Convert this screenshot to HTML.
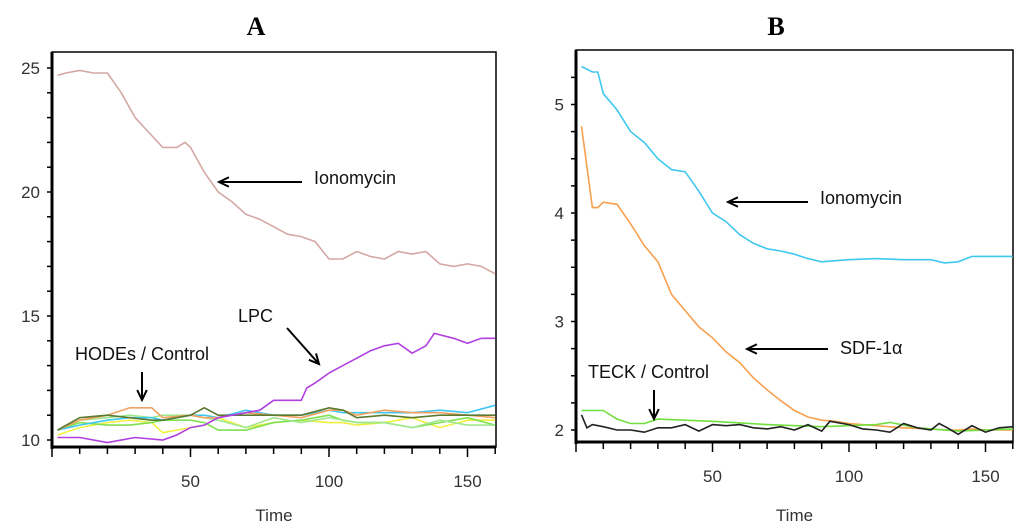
<!DOCTYPE html>
<html><head><meta charset="utf-8"><style>
body{margin:0;background:#fff;width:1024px;height:525px;overflow:hidden}
svg text{font-family:"Liberation Sans",sans-serif}
</style></head><body>
<svg id="c" width="1024" height="525">
<text x="256" y="35" font-family="Liberation Serif" font-weight="bold" font-size="26" text-anchor="middle" style="font-family:'Liberation Serif',serif">A</text>
<text x="776" y="35" font-weight="bold" font-size="26" text-anchor="middle" style="font-family:'Liberation Serif',serif">B</text>
</svg>
<script>
const tA=[2,5,10,15,20,25,30,35,40,45,48,50,55,60,65,70,75,80,85,90,95,100,105,110,115,120,125,130,135,140,145,150,155,160];
const ionoA=[24.7,24.8,24.9,24.8,24.8,24.0,23.0,22.4,21.8,21.8,22.0,21.8,20.8,20.0,19.6,19.1,18.9,18.6,18.3,18.2,18.0,17.3,17.3,17.6,17.4,17.3,17.6,17.5,17.6,17.1,17.0,17.1,17.0,16.7];
const tLPC=[2,10,20,30,40,45,50,55,60,65,70,75,80,90,92,95,100,105,110,115,120,125,130,135,138,145,150,155,160];
const lpc=[10.1,10.1,9.9,10.1,10.0,10.2,10.5,10.6,10.9,11.0,11.1,11.2,11.6,11.6,12.1,12.3,12.7,13.0,13.3,13.6,13.8,13.9,13.5,13.8,14.3,14.1,13.9,14.1,14.1];
const tC=[2,10,20,28,36,40,50,55,60,70,80,90,100,105,110,120,130,140,150,160];
const ctrlOrange=[10.4,10.8,11.0,11.3,11.3,10.9,11.0,10.9,10.9,11.1,11.0,10.9,11.2,11.2,11.0,11.2,11.1,11.1,11.0,10.9];
const ctrlCyan=[10.4,10.6,10.8,10.9,10.9,10.8,11.0,11.0,10.9,11.2,11.0,11.0,11.2,11.1,11.1,11.1,11.1,11.2,11.1,11.4];
const ctrlDkGreen=[10.4,10.9,11.0,10.9,10.8,10.8,11.0,11.3,11.0,11.0,11.0,11.0,11.3,11.2,10.9,11.0,10.9,11.0,11.0,11.0];
const ctrlLtGreen=[10.4,10.8,10.9,11.0,10.9,11.0,11.0,10.9,10.8,10.5,10.9,10.7,10.9,10.8,10.7,10.7,10.5,10.8,10.6,10.6];
const ctrlYellow=[10.2,10.5,10.7,10.8,10.7,10.3,10.5,10.6,10.9,10.5,10.7,10.8,10.7,10.7,10.6,10.7,10.9,10.5,10.8,10.8];
const ctrlGreen2=[10.4,10.7,10.6,10.6,10.7,10.8,10.8,10.7,10.4,10.4,10.7,10.8,11.0,10.8,10.7,10.7,10.5,10.7,10.9,10.6];
const ticksXA=[50,100,150], ticksYA=[10,15,20,25];
const tB=[2,6,8,10,15,20,25,30,35,40,45,50,55,60,65,70,75,80,85,90,95,100,110,120,130,135,140,145,150,155,160];
const ionoB=[5.35,5.3,5.3,5.1,4.95,4.75,4.65,4.5,4.4,4.38,4.2,4.0,3.92,3.8,3.72,3.67,3.65,3.62,3.58,3.55,3.56,3.57,3.58,3.57,3.57,3.54,3.55,3.6,3.6,3.6,3.6];
const sdf=[4.8,4.05,4.05,4.1,4.08,3.9,3.7,3.55,3.25,3.1,2.95,2.85,2.72,2.62,2.48,2.37,2.27,2.18,2.12,2.09,2.08,2.06,2.04,2.02,2.01,2.0,2.0,2.01,2.0,2.0,2.0];
const tG=[2,10,15,20,25,30,50,70,90,110,115,125,140,160];
const teck=[2.18,2.18,2.1,2.06,2.06,2.1,2.08,2.05,2.03,2.05,2.07,2.02,1.99,2.01];
const tK=[2,4,6,10,15,20,25,30,35,40,45,50,55,60,65,70,75,80,85,90,93,100,105,110,115,120,125,130,133,136,140,145,150,155,160];
const ctrlB=[2.14,2.02,2.05,2.03,2.0,2.0,1.98,2.02,2.02,2.05,1.99,2.05,2.04,2.05,2.02,2.01,2.03,2.0,2.05,1.99,2.08,2.05,2.01,2.0,1.98,2.06,2.02,2.0,2.06,2.02,1.96,2.04,1.98,2.02,2.03];
const ticksXB=[50,100,150], ticksYB=[2,3,4,5];

const svg=document.getElementById('c');const NS='http://www.w3.org/2000/svg';
function mk(tag,at,parent){const e=document.createElementNS(NS,tag);for(const k in at)e.setAttribute(k,at[k]);(parent||svg).appendChild(e);return e;}
function panel(p){
  const xs=t=>p.x0+t*p.kx, ys=v=>p.y0-(v-p.v0)*p.ky;
  const fr=mk('rect',{x:p.L,y:p.T,width:p.R-p.L,height:p.B-p.T,fill:'none',stroke:'#000','stroke-width':1.5});
  
  
  mk('line',{x1:p.L,y1:p.T,x2:p.L,y2:p.B+2,stroke:'#000','stroke-width':3});
  mk('line',{x1:p.L,y1:p.B,x2:p.R,y2:p.B,stroke:'#000','stroke-width':3});
  for(let t=0;t<=160;t+=10){const x=xs(t);if(x>p.R+1)continue;mk('line',{x1:x,y1:p.B,x2:x,y2:p.B+(t%50==0?10:7),stroke:'#000','stroke-width':1.5});}
  p.tx.forEach(t=>{const e=mk('text',{x:xs(t),y:p.B+40,'font-size':17,'text-anchor':'middle',fill:'#333'});e.textContent=t;
    
    });
  for(let v=p.vmin;v<=p.vmax+1e-9;v+=p.minor){const y=ys(v);mk('line',{x1:p.L-5,y1:y,x2:p.L,y2:y,stroke:'#000','stroke-width':1.5});}
  p.ty.forEach(v=>{const e=mk('text',{x:p.L-12,y:ys(v)+6,'font-size':17,'text-anchor':'end',fill:'#333'});e.textContent=v;
    
    });
  const xt=mk('text',{x:(p.L+p.R)/2,y:521,'font-size':17,'text-anchor':'middle',fill:'#333'});xt.textContent='Time';
  
  
  p.series.forEach(s=>{const d=s.t.map((t,i)=>(i?'L':'M')+xs(t).toFixed(1)+','+ys(s.v[i]).toFixed(1)).join('');
    const e=mk('path',{d:d,fill:'none',stroke:s.c,'stroke-width':1.6});
    
    });
}
panel({id:'panel-a',L:52,T:52,R:496,B:447,x0:52,kx:2.77,y0:440,v0:10,ky:24.8,vmin:10,vmax:25,minor:1,tx:ticksXA,ty:ticksYA,
 series:[{t:tA,v:ionoA,c:'#d4a8a4',n:'ionomycin-line-a'},{t:tC,v:ctrlYellow,c:'#f0f040',n:'control-yellow-line'},{t:tC,v:ctrlGreen2,c:'#80e050',n:'control-green-line'},{t:tC,v:ctrlLtGreen,c:'#a0e890',n:'control-lightgreen-line'},{t:tC,v:ctrlCyan,c:'#40c8f0',n:'control-cyan-line'},{t:tC,v:ctrlOrange,c:'#f0a060',n:'hodes-orange-line'},{t:tC,v:ctrlDkGreen,c:'#5a7a30',n:'control-darkgreen-line'},{t:tLPC,v:lpc,c:'#b040e0',n:'lpc-line'}]});
panel({id:'panel-b',L:576,T:50,R:1013,B:442,x0:576,kx:2.73,y0:430,v0:2,ky:108.5,vmin:2,vmax:5.25,minor:0.25,tx:ticksXB,ty:ticksYB,
 series:[{t:tB,v:ionoB,c:'#40c8f0',n:'ionomycin-line-b'},{t:tB,v:sdf,c:'#f8a050',n:'sdf-1a-line'},{t:tG,v:teck,c:'#70e040',n:'teck-line'},{t:tK,v:ctrlB,c:'#222',n:'control-line-b'}]});
function lab(x,y,txt,n){const e=mk('text',{x:x,y:y,'font-size':18,fill:'#111'});e.textContent=txt;
  
  }
function arrow(x1,y1,x2,y2,n){const a=Math.atan2(y2-y1,x2-x1),h=11;
  const e=mk('path',{d:`M${x1},${y1}L${x2},${y2}M${x2-h*Math.cos(a-0.45)},${y2-h*Math.sin(a-0.45)}L${x2},${y2}L${x2-h*Math.cos(a+0.45)},${y2-h*Math.sin(a+0.45)}`,fill:'none',stroke:'#000','stroke-width':2});
  
  }
lab(314,184,'Ionomycin','ionomycin-label-a');arrow(302,182,219,182,'ionomycin-arrow-a');
lab(238,322,'LPC','lpc-label');arrow(287,328,319,364,'lpc-arrow');
lab(75,360,'HODEs / Control','hodes-control-label');arrow(142,372,142,400,'hodes-arrow');
lab(820,204,'Ionomycin','ionomycin-label-b');arrow(808,202,728,202,'ionomycin-arrow-b');
lab(840,354,'SDF-1α','sdf-label');arrow(828,349,747,349,'sdf-arrow');
lab(588,378,'TECK  / Control','teck-control-label');arrow(654,390,654,419,'teck-arrow');
</script>
</body></html>
